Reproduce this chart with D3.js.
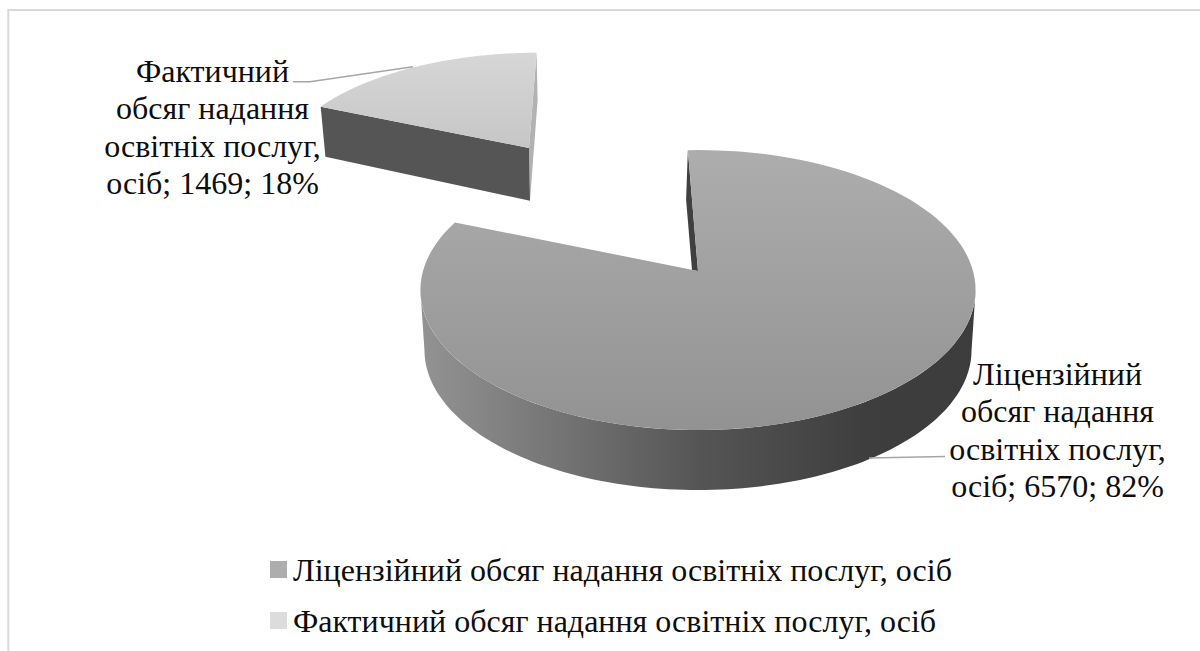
<!DOCTYPE HTML>
<html>
  <head>
    <meta charset="utf-8">
    <title>Обсяг надання освітніх послуг</title>
    <style>
      html, body { margin: 0; padding: 0; background: #fff; overflow: hidden; }
      svg text { font-family: "Liberation Serif", serif; fill: #0d0d0d; }
    </style>
  </head>
  <body>
    <svg width="1200" height="651"></svg>
    <script src="https://cdn.jsdelivr.net/npm/d3@7/dist/d3.min.js" charset="utf-8"></script>
    <script>
      var categories = ['Ліцензійний обсяг надання освітніх послуг, осіб', 'Фактичний обсяг надання освітніх послуг, осіб'];
      var values = [6570, 1469];
      var labelLines = [['Ліцензійний', 'обсяг надання', 'освітніх послуг,'], ['Фактичний', 'обсяг надання', 'освітніх послуг,']];
      var unit = 'осіб';

      var svg = d3.select('svg');
      var total = d3.sum(values);
      var RAD = Math.PI / 180;

      // Pie starts a little left of twelve o'clock, as in a rotated 3-D pie
      var pie = d3.pie().sort(null).startAngle(-2.4 * RAD).endAngle((360 - 2.4) * RAD);
      var slices = pie(values);

      // Tilted disc: a point at angle t on a disc goes through a perspective divide
      function disc(o) {
        return function(t, r) {
          var u = Math.sin(t) * (r === undefined ? 1 : r);
          var v = -Math.cos(t) * (r === undefined ? 1 : r);
          var w = 1 + o.k * v;
          return [o.x + (o.p * u + o.q * v) / w, o.y + (o.r * u + o.s * v) / w];
        };
      }

      var mainTop = disc({ x: 698, y: 271, k: -0.136, p: 275, q: 0, r: 0, s: 137.4 });
      var mainBottom = disc({ x: 698, y: 331, k: -0.136, p: 271, q: 0, r: 0, s: 137.4 });
      var mainInner = disc({ x: 692, y: 270, k: -0.136, p: 275, q: 0, r: 0, s: 137.4 });
      var sideTop = disc({ x: 529, y: 148, k: -0.136, p: 243.2, q: -18.8, r: 3.5, s: 108.2 });
      var sideBottom = disc({ x: 530, y: 200.7, k: -0.136, p: 239, q: -18.7, r: 4, s: 114.5 });

      var line = d3.line();

      function rim(fn, a0, a1) {
        return d3.range(0, 121).map(function(i) { return fn(a0 + (a1 - a0) * i / 120); });
      }

      function shape(points) { return line(points) + 'Z'; }

      // Gradients
      var defs = svg.append('defs');

      function gradient(id, x1, y1, x2, y2, stops) {
        var g = defs.append('linearGradient')
          .attr('id', id)
          .attr('gradientUnits', 'userSpaceOnUse')
          .attr('x1', x1).attr('y1', y1).attr('x2', x2).attr('y2', y2);
        stops.forEach(function(s) {
          g.append('stop').attr('offset', s[0]).attr('stop-color', s[1]);
        });
      }

      gradient('topMain', 0, 150, 0, 432, [[0, '#adadad'], [1, '#929292']]);
      gradient('wallMain', 421, 0, 977, 0, [[0, '#939393'], [0.5, '#555555'], [0.8, '#3e3e3e'], [1, '#3c3c3c']]);
      gradient('topSide', 0, 54, 0, 150, [[0, '#d6d6d6'], [1, '#c6c6c6']]);
      gradient('legendMain', 0, 561, 0, 578, [[0, '#adadad'], [1, '#8c8c8c']]);
      gradient('legendSide', 0, 612, 0, 629, [[0, '#dcdcdc'], [1, '#c6c6c6']]);

      // Frame: only the left and top edges fall inside the page
      svg.append('path')
        .attr('d', line([[8.3, 651], [8.3, 10], [1200, 10]]))
        .attr('fill', 'none')
        .attr('stroke', '#d9d9d9')
        .attr('stroke-width', 2);

      // Big slice
      var big = slices[0];

      // outer wall, between the widest points of the rim
      var wallTop = rim(mainTop, 98 * RAD, 262 * RAD);
      var wallBottom = rim(mainBottom, 98 * RAD, 262 * RAD).reverse();
      svg.append('path')
        .attr('d', shape(wallTop.concat(wallBottom)))
        .attr('fill', 'url(#wallMain)');

      // cut face seen through the gap
      svg.append('path')
        .attr('d', shape([mainTop(big.startAngle), mainTop(big.startAngle, 0), mainInner(big.startAngle, 0), mainInner(big.startAngle, 0.55)]))
        .attr('fill', '#404040');

      svg.append('path')
        .attr('d', shape([mainTop(big.startAngle, 0)].concat(rim(mainTop, big.startAngle, big.endAngle))))
        .attr('fill', 'url(#topMain)');

      // Small slice, pulled out of the pie
      var small = slices[1];

      svg.append('path')
        .attr('d', shape([sideTop(small.endAngle), sideBottom(small.endAngle), sideBottom(small.endAngle, 0), sideTop(small.endAngle, 0)]))
        .attr('fill', '#b2b2b2');

      svg.append('path')
        .attr('d', shape([sideTop(small.startAngle), sideTop(small.startAngle, 0), sideBottom(small.startAngle, 0), sideBottom(small.startAngle)]))
        .attr('fill', '#555555');

      svg.append('path')
        .attr('d', shape([sideTop(small.startAngle, 0)].concat(rim(sideTop, small.startAngle, small.endAngle))))
        .attr('fill', 'url(#topSide)');

      // Leader lines
      var leaders = [
        [[869, 458], [945, 456.5]],
        [[293, 81.7], [310, 81.7], [413, 66.7]]
      ];
      svg.selectAll('.leader')
        .data(leaders)
        .enter().append('path')
        .attr('class', 'leader')
        .attr('d', function(d) { return line(d); })
        .attr('fill', 'none')
        .attr('stroke', '#a6a6a6')
        .attr('stroke-width', 1.5);

      // Data labels
      var labelX = [1057.5, 212.5];
      var labelY = [385, 82];

      labelLines.forEach(function(lines, i) {
        var pct = Math.round(values[i] / total * 100);
        var all = lines.concat([unit + '; ' + values[i] + '; ' + pct + '%']);
        svg.append('g').selectAll('text')
          .data(all)
          .enter().append('text')
          .attr('x', labelX[i])
          .attr('y', function(d, j) { return labelY[i] + j * 37.3; })
          .attr('text-anchor', 'middle')
          .attr('font-size', 32)
          .text(function(d) { return d; });
      });

      // Legend
      var legendFill = ['url(#legendMain)', 'url(#legendSide)'];
      var legendY = d3.scalePoint().domain(categories).range([561, 612]);

      var legend = svg.selectAll('.legend')
        .data(categories)
        .enter().append('g')
        .attr('class', 'legend')
        .attr('transform', function(d) { return 'translate(270,' + legendY(d) + ')'; });

      legend.append('rect')
        .attr('width', 17).attr('height', 17)
        .attr('fill', function(d, i) { return legendFill[i]; });

      legend.append('text')
        .attr('x', 23)
        .attr('y', 20)
        .attr('font-size', 32)
        .text(function(d) { return d; });
    </script>
  </body>
</html>
